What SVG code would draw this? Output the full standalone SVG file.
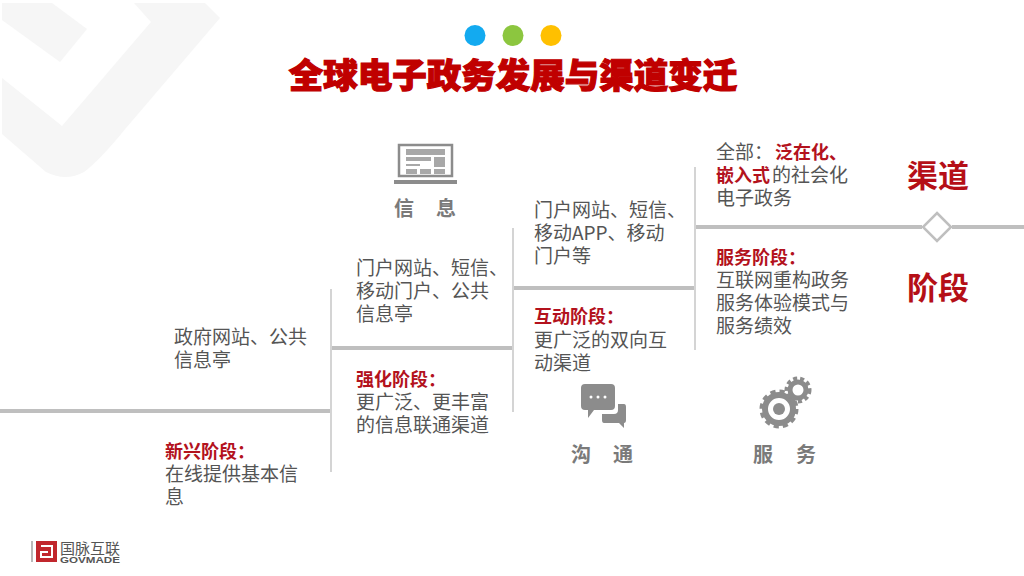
<svg xmlns="http://www.w3.org/2000/svg" width="1024" height="576" viewBox="0 0 1024 576">
<style>
text{font-family:"Noto Sans CJK SC","Liberation Sans",sans-serif}
.b{font-size:19px;fill:#555}
.r{font-size:18px;fill:#b3121d;font-weight:700}
.t{font-size:20px;fill:#7a7a7a;font-weight:700}
.s{font-size:31px;fill:#b50f17;font-weight:700}
.h{stroke:#bfbfbf;stroke-width:4;fill:none}
.v{stroke:#d4d4d4;stroke-width:2;fill:none}
.i{fill:#8c8c8c}
</style>
<g id="watermark" fill="#f6f6f6">
<path d="M2 3H52L87 29 60 62 2 20Z"/>
<path d="M134 3H205L220 18 126 128Q100 160 84 172Q66 182 46 172L2 134V78L62 126 151 22Z"/>
</g>
<g id="dots">
<circle cx="475" cy="35.500" r="10.500" fill="#13aaf0"/>
<circle cx="513" cy="35.500" r="10.500" fill="#8cc63f"/>
<circle cx="551" cy="35.500" r="10.500" fill="#ffc000"/>
</g>
<g id="title">
<text x="513" y="88" text-anchor="middle" font-size="34.500" font-weight="900" fill="#c00000" stroke="#c00000" stroke-width="1.200">全球电子政务发展与渠道变迁</text>
</g>
<g id="connectors">
<path class="h" d="M0 411H331M331 348H513M513 288H695M695 227H922M952 227H1024"/>
<path class="v" d="M331 289V472M513 228V412M695 167V350"/>
</g>
<g id="diamond"><path d="M937 213L951 227 937 241 923 227Z" fill="#fff" stroke="#bfbfbf" stroke-width="2.500"/></g>
<g id="stage1">
<text class="b" x="174" y="344"><tspan x="174">政府网站、公共</tspan><tspan x="174" dy="22.500">信息亭</tspan></text>
<text class="r" x="165" y="458">新兴阶段：</text>
<text class="b" y="481"><tspan x="165">在线提供基本信</tspan><tspan x="165" dy="22.500">息</tspan></text>
</g>
<g id="stage2">
<text class="b" y="275"><tspan x="356">门户网站、短信、</tspan><tspan x="356" dy="23">移动门户、公共</tspan><tspan x="356" dy="22.500">信息亭</tspan></text>
<text class="r" x="356" y="386">强化阶段：</text>
<text class="b" y="409"><tspan x="356">更广泛、更丰富</tspan><tspan x="356" dy="22.500">的信息联通渠道</tspan></text>
</g>
<g id="stage3">
<text class="b" y="217"><tspan x="534">门户网站、短信、</tspan><tspan x="534" dy="23">移动APP、移动</tspan><tspan x="534" dy="23">门户等</tspan></text>
<text class="r" x="534" y="323">互动阶段：</text>
<text class="b" y="347"><tspan x="534">更广泛的双向互</tspan><tspan x="534" dy="23">动渠道</tspan></text>
</g>
<g id="stage4">
<text class="b" y="159"><tspan x="716">全部：</tspan><tspan class="r" x="775">泛在化、</tspan><tspan class="r" x="716" dy="23">嵌入式</tspan><tspan x="772">的社会化</tspan><tspan x="716" dy="23">电子政务</tspan></text>
<text class="r" x="716" y="264">服务阶段：</text>
<text class="b" y="287"><tspan x="716">互联网重构政务</tspan><tspan x="716" dy="23">服务体验模式与</tspan><tspan x="716" dy="22.500">服务绩效</tspan></text>
</g>
<g id="side-labels">
<text class="s" x="907" y="187">渠道</text>
<text class="s" x="907" y="299">阶段</text>
</g>
<g id="info">
<path d="M399 145H452V176H399Z" fill="none" stroke="#8c8c8c" stroke-width="2.500"/>
<path class="i" d="M394 180H457V184H394Z"/>
<path fill="#a8a8a8" d="M406 149H445V155H406ZM434 157H445V167H434ZM406 157H431V161H406ZM406 164H420V166H406ZM406 169H417V174H406ZM420 169H431V174H420ZM434 169H445V174H434Z"/>
<text class="t" x="394" y="216">信</text>
<text class="t" x="436" y="216">息</text>
</g>
<g id="comm">
<path class="i" d="M585 384H611Q615 384 615 388V406Q615 410 611 410H594L588 418V410H585Q581 410 581 406V388Q581 384 585 384Z"/>
<circle cx="591" cy="397" r="1.500" fill="#fff"/><circle cx="598" cy="397" r="1.500" fill="#fff"/><circle cx="605" cy="397" r="1.500" fill="#fff"/>
<path class="i" d="M618 404H624Q626 404 626 407V420Q626 423 624 423V428L619 423H604Q602 423 602 420V414H614Q618 414 618 410Z"/>
<text class="t" x="571" y="462">沟</text>
<text class="t" x="613" y="462">通</text>
</g>
<g id="service">
<circle cx="779" cy="409" r="14" fill="none" stroke="#8c8c8c" stroke-width="6"/>
<circle cx="779" cy="409" r="17" fill="none" stroke="#8c8c8c" stroke-width="5" stroke-dasharray="5 3.900"/>
<circle cx="779" cy="409" r="6" fill="#8c8c8c"/>
<circle cx="798" cy="390" r="8" fill="none" stroke="#8c8c8c" stroke-width="5"/>
<circle cx="798" cy="390" r="11.500" fill="none" stroke="#8c8c8c" stroke-width="4" stroke-dasharray="4 3"/>
<text class="t" x="753" y="462">服</text>
<text class="t" x="796" y="462">务</text>
</g>
<g id="logo">
<path d="M31 541H33V562H31Z" fill="#b9b9b9"/>
<path d="M36 541H57V562H36Z" fill="#c1272d"/>
<path d="M41 546H52V557H41V552H48" fill="none" stroke="#fff" stroke-width="2"/>
<text x="60" y="554" font-size="15" fill="#555">国脉互联</text>
<text x="60" y="563" font-size="9" font-weight="700" fill="#555" style="font-family:'Liberation Sans',sans-serif" textLength="60" lengthAdjust="spacingAndGlyphs">GOVMADE</text>
</g>
</svg>
